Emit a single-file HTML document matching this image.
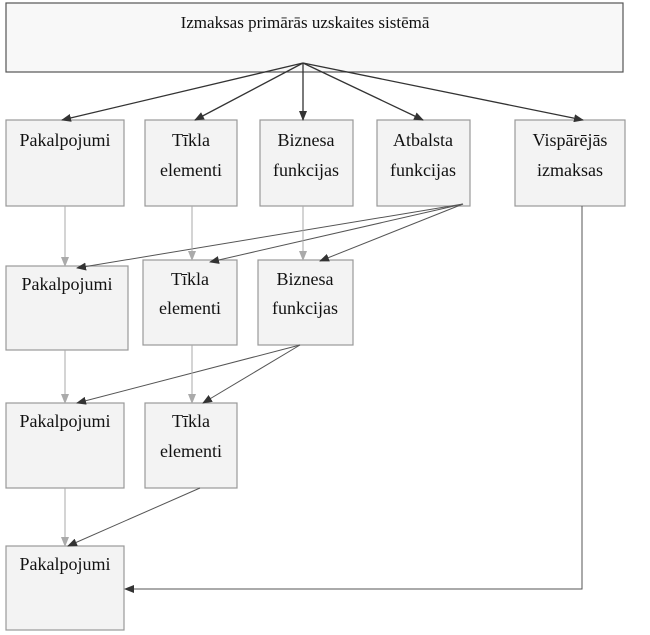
<!DOCTYPE html>
<html><head><meta charset="utf-8"><style>
body{margin:0;background:#fff}
svg{display:block}
text{font-family:"Liberation Serif",serif;font-size:18px;fill:#111;text-anchor:middle}
</style></head><body>
<svg width="650" height="635" viewBox="0 0 650 635">
<defs>
<marker id="a" markerWidth="10" markerHeight="8" refX="9" refY="4" orient="auto" markerUnits="userSpaceOnUse"><path d="M0,0 L10,4 L0,8 Z" fill="#333"/></marker>
<marker id="g" markerWidth="10" markerHeight="8" refX="9" refY="4" orient="auto" markerUnits="userSpaceOnUse"><path d="M0,0 L10,4 L0,8 Z" fill="#aaa"/></marker>
</defs>
<g fill="#f3f3f3" stroke="#999" stroke-width="1.2">
<rect x="6" y="3" width="617" height="69" stroke="#555" fill="#f8f8f8"/>
<rect x="6" y="120" width="118" height="86"/>
<rect x="145" y="120" width="92" height="86"/>
<rect x="260" y="120" width="93" height="86"/>
<rect x="377" y="120" width="93" height="86"/>
<rect x="515" y="120" width="110" height="86"/>
<rect x="6" y="266" width="122" height="84"/>
<rect x="143" y="260" width="94" height="85"/>
<rect x="258" y="260" width="95" height="85"/>
<rect x="6" y="403" width="118" height="85"/>
<rect x="145" y="403" width="92" height="85"/>
<rect x="6" y="546" width="118" height="84"/>
</g>
<text x="305" y="28" style="font-size:17px">Izmaksas primārās uzskaites sistēmā</text>
<text x="65" y="146">Pakalpojumi</text>
<text x="191" y="146">Tīkla</text><text x="191" y="176">elementi</text>
<text x="306" y="146">Biznesa</text><text x="306" y="176">funkcijas</text>
<text x="423" y="146">Atbalsta</text><text x="423" y="176">funkcijas</text>
<text x="570" y="146">Vispārējās</text><text x="570" y="176">izmaksas</text>
<text x="67" y="290">Pakalpojumi</text>
<text x="190" y="285">Tīkla</text><text x="190" y="314">elementi</text>
<text x="305" y="285">Biznesa</text><text x="305" y="314">funkcijas</text>
<text x="65" y="427">Pakalpojumi</text>
<text x="191" y="427">Tīkla</text><text x="191" y="457">elementi</text>
<text x="65" y="570">Pakalpojumi</text>
<g stroke="#333" stroke-width="1.3" fill="none" marker-end="url(#a)">
<line x1="303" y1="63" x2="62" y2="120"/>
<line x1="303" y1="63" x2="195" y2="120"/>
<line x1="303" y1="63" x2="303" y2="120"/>
<line x1="303" y1="63" x2="423" y2="120"/>
<line x1="303" y1="63" x2="583" y2="120"/>
</g>
<g stroke="#555" stroke-width="1" fill="none" marker-end="url(#a)">
<line x1="463" y1="204" x2="77" y2="268"/>
<line x1="463" y1="204" x2="210" y2="262"/>
<line x1="463" y1="204" x2="320" y2="261"/>
<line x1="300" y1="345" x2="77" y2="403"/>
<line x1="300" y1="345" x2="203" y2="403"/>
<line x1="200" y1="488" x2="68" y2="546"/>
<polyline points="582,206 582,589 125,589"/>
</g>
<g stroke="#aaa" stroke-width="1" fill="none" marker-end="url(#g)">
<line x1="65" y1="206" x2="65" y2="266"/>
<line x1="192" y1="206" x2="192" y2="260"/>
<line x1="303" y1="206" x2="303" y2="260"/>
<line x1="65" y1="350" x2="65" y2="403"/>
<line x1="192" y1="345" x2="192" y2="403"/>
<line x1="65" y1="488" x2="65" y2="546"/>
</g>
</svg>
</body></html>
